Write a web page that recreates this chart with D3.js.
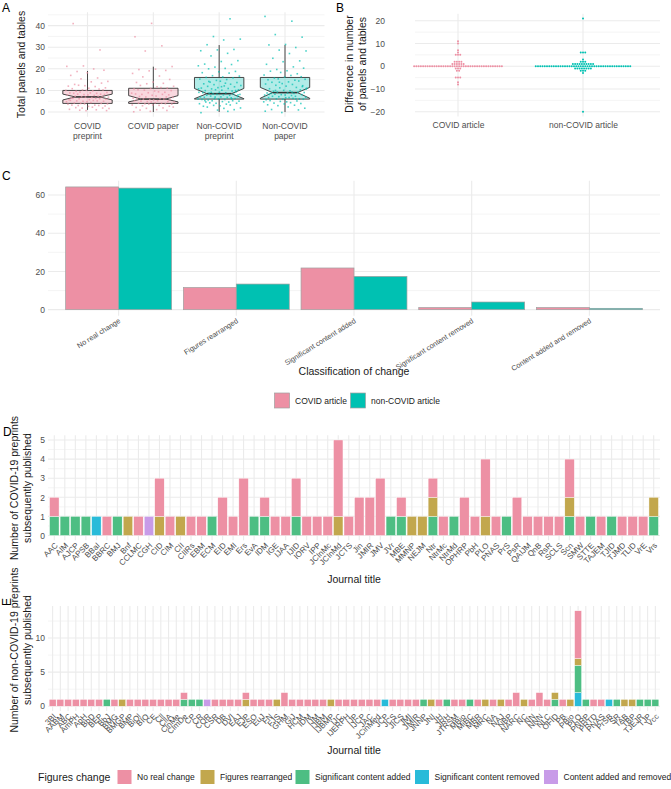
<!DOCTYPE html>
<html><head><meta charset="utf-8">
<script src="https://cdn.jsdelivr.net/npm/d3@7"></script>
<style>body{margin:0;background:#fff}svg text{font-family:"Liberation Sans",Arial,Helvetica,sans-serif}</style>
</head><body>
<svg id="c" width="671" height="789"></svg>
<script>
// ---------------- DATA ----------------
// Panel A: boxplot stats
const groupsA = ["COVID\npreprint","COVID paper","Non-COVID\npreprint","Non-COVID\npaper"];
const q1A = [4, 4, 6, 6];
const medA = [7, 6, 8.5, 9];
const q3A = [10, 11, 16, 16];
const whiskLoA = [1, 0, 0, 0];
const whiskHiA = [19, 21, 31, 31];
const notchLoA = [5.6, 4.7, 6.2, 6.4];
const notchHiA = [8.3, 7.6, 10.9, 11.4];
const ptsCovidPreprint = [41,29,21,21,20,19,19,18,17,16,15,14,14,13,13,12,12,12,12,11,11,11,11,10,10,10,10,10,10,9,9,9,9,9,9,8,8,8,8,8,8,8,7,7,7,7,7,7,7,7,6,6,6,6,6,6,6,5,5,5,5,5,5,5,5,4,4,4,4,4,4,4,3,3,3,3,3,3,2,2,2,2,2,1,1,1,1,1];
const ptsCovidPaper = [41,35,31,28,21,20,20,19,19,18,17,16,15,14,14,13,13,12,12,12,11,11,11,11,10,10,10,10,9,9,9,9,8,8,8,8,8,7,7,7,7,7,6,6,6,6,6,6,6,6,5,5,5,5,5,5,5,4,4,4,4,4,4,4,3,3,3,3,3,2,2,2,2,1,1,1,0,0];
const ptsNonPreprint = [43,35,34,33,31,29,29,28,27,26,24,23,22,22,21,21,20,20,19,19,18,18,17,17,16,16,16,15,15,15,14,14,14,13,13,13,12,12,12,12,11,11,11,11,10,10,10,10,10,9,9,9,9,9,9,8,8,8,8,8,8,8,7,7,7,7,7,7,7,6,6,6,6,6,6,6,5,5,5,5,5,5,4,4,4,4,4,3,3,3,3,2,2,2,1,1,0,0,9,8,12,5,6,7,11,13,14,10];
const ptsNonPaper = [44,42,36,35,31,31,30,29,28,27,25,24,23,22,21,20,20,19,19,18,18,17,17,16,16,16,15,15,15,15,14,14,14,13,13,13,12,12,12,11,11,11,11,10,10,10,10,9,9,9,9,9,9,9,8,8,8,8,8,8,7,7,7,7,7,7,6,6,6,6,6,6,5,5,5,5,5,4,4,4,4,3,3,3,2,2,1,1,0,0,9,10,12,7,8,6,14,11];

// Panel B: dot plot (difference value -> number of articles)
const groupsB = ["COVID article","non-COVID article"];
const covidDiffValues = [11,10,7,6,5,2,1,0,-1,-2,-5,-7,-8];
const covidDiffCounts = [1,1,1,1,3,4,6,40,3,2,3,1,1];
const nonDiffValues = [21,6,3,2,1,0,-1,-2,-3,-20];
const nonDiffCounts = [1,3,1,3,10,43,8,3,1,1];

// Panel C
const changeCats = ["No real change","Figures rearranged","Significant content added","Significant content removed","Content added and removed"];
const covidPct = [64.2, 11.6, 21.8, 1.1, 1.1];
const nonCovidPct = [63.6, 13.4, 17.4, 4.0, 0.7];
const seriesC = ["COVID article","non-COVID article"];

// Panel D
const journalsD = ["AAC","AIM","AJCP","APSB","BBaI","BBRC","BMJ","Bnf","CCLMC","CGH","CID","CIM","CII","CIIRs","EBM","ECM","EID","EMI","Ers","EvA","IDM","IGE","IJAA","IJID","IORV","IPP","JCInMc","JCInMd","JCTS","Jin","JMIR","JMV","JVr","MBE","MMNP","NEJM","Ntr","NtrMc","NtrMd","OPHRP","PbH","PLO","PNAS","PrS","PsR","QAIJM","QnB","RsR","SCLS","Scn","SMW","STTE","TAJEM","TJID","TJMD","TLID","VrE","Vrs"];
const noChangeD =   [1,0,0,0,0,1,0,0,1,0, 2,1,0,1,1,0,2,1,3,0, 1,1,1,2,1,1,1,4,1,2, 2,3,0,1,0,0,1,1,0,2, 1,3,1,0,2,1,1,1,1,2, 1,0,1,0,1,1,1,0];
const figRearrD =   [0,0,0,0,0,0,0,1,0,0, 1,0,1,0,0,0,0,0,0,0, 0,0,0,0,0,0,0,1,0,0, 0,0,0,0,1,1,1,0,0,0, 0,1,0,0,0,0,0,0,0,1, 0,0,0,0,0,0,0,1];
const sigAddedD =   [1,1,1,1,0,0,1,0,0,0, 0,0,0,0,0,1,0,0,0,1, 1,0,0,1,0,0,0,0,0,0, 0,0,1,1,0,0,1,0,1,0, 0,0,0,1,0,0,0,0,0,1, 0,1,0,1,0,0,0,1];
const sigRemovedD = [0,0,0,0,1,0,0,0,0,0, 0,0,0,0,0,0,0,0,0,0, 0,0,0,0,0,0,0,0,0,0, 0,0,0,0,0,0,0,0,0,0, 0,0,0,0,0,0,0,0,0,0, 0,0,0,0,0,0,0,0];
const addRemD =     [0,0,0,0,0,0,0,0,0,1, 0,0,0,0,0,0,0,0,0,0, 0,0,0,0,0,0,0,0,0,0, 0,0,0,0,0,0,0,0,0,0, 0,0,0,0,0,0,0,0,0,0, 0,0,0,0,0,0,0,0];

// Panel E
const journalsE = ["3BI","AABM","ABC","AmPH","ApH","BbD","BEP","BbJ","BMG","BMGP","BMP","BiOl","BIO","CE","Cll","CllA","ClnMe","CImDe","CP","CR","COR","CSR","DB","DVI","EAJ","EJP","ESO","EuJ","FN","FJS","GHM","GiJ","HCM","IDM","IJM","IJBM","IJBMP","IJC","IJERPH","IJP","IJCP","JAC","JCinMed","JCP","JCS","JICS","JMI","JMIR","JNNP","JNI","JH","JRH","JTRSM","MBio","MiBC","MBR","MRC","NA","NAJ","NBP","NARC","NC","NN","NNN","NLC","OFID","PB","PBio","PLO","PNRP","PRTD","PNAS","PrSB","SR","TAB","TBP","TJEJR","TJP","Vcc"];
const noChangeE =   [1,1,1,1,1,1,1,0,1,0, 1,1,1,1,1,1,1,1,0,0, 0,1,1,1,1,1,1,1,1,0, 2,1,1,1,1,1,0,1,1,1, 1,1,1,0,1,1,1,1,0,0, 1,0,1,1,0,1,0,1,0,1, 2,0,1,2,1,0,1,0,7,0, 1,1,0,0,0,0,0,0,0];
const figRearrE =   [0,0,0,0,0,0,0,0,0,1, 0,0,0,0,0,0,0,0,0,0, 0,0,0,0,0,1,0,0,0,1, 0,0,0,0,0,0,1,0,0,0, 0,0,0,0,0,0,0,0,0,1, 0,0,0,0,0,0,1,0,1,0, 0,1,0,0,0,1,0,1,1,0, 0,0,0,0,1,1,0,0,0];
const sigAddedE =   [0,0,0,0,0,0,0,1,0,0, 0,0,0,0,0,0,0,1,1,1, 0,0,0,0,0,0,0,0,0,0, 0,0,0,0,0,0,0,0,0,0, 0,0,0,0,0,0,0,0,1,0, 0,1,0,0,1,0,0,0,0,0, 0,0,0,0,0,1,0,0,4,1, 0,0,0,1,0,0,1,1,1];
const sigRemovedE = [0,0,0,0,0,0,0,0,0,0, 0,0,0,0,0,0,0,0,0,0, 0,0,0,0,0,0,0,0,0,0, 0,0,0,0,0,0,0,0,0,0, 0,0,0,1,0,0,0,0,0,0, 0,0,0,0,0,0,0,0,0,0, 0,0,0,0,0,0,0,0,2,0, 0,0,1,0,0,0,0,0,0];
const addRemE =     [0,0,0,0,0,0,0,0,0,0, 0,0,0,0,0,0,0,0,0,0, 1,0,0,0,0,0,0,0,0,0, 0,0,0,0,0,0,0,0,0,0, 0,0,0,0,0,0,0,0,0,0, 0,0,0,0,0,0,0,0,0,0, 0,0,0,0,0,0,0,0,0,0, 0,0,0,0,0,0,0,0,0];

const changeLegend = ["No real change","Figures rearranged","Significant content added","Significant content removed","Content added and removed"];

// ---------------- STYLE ----------------
const PINK = "#ED90A4", TEAL = "#00C1B2";
const catColors = ["#ED90A4","#C2A74D","#4DBE83","#28BBD9","#C89BE8"];
const GRID = "#EBEBEB", AXT = "#4D4D4D", TXT = "#1A1A1A";
const svg = d3.select("#c");
function frac(x){ return x - Math.floor(x); }

function hGrid(g, y, major, minor, x0, x1){
  minor.forEach(v => g.append("line").attr("x1",x0).attr("x2",x1).attr("y1",y(v)).attr("y2",y(v)).attr("stroke",GRID).attr("stroke-width",0.55));
  major.forEach(v => g.append("line").attr("x1",x0).attr("x2",x1).attr("y1",y(v)).attr("y2",y(v)).attr("stroke",GRID).attr("stroke-width",1.1));
}
function vGrid(g, xs, y0, y1){
  xs.forEach(x => g.append("line").attr("x1",x).attr("x2",x).attr("y1",y0).attr("y2",y1).attr("stroke",GRID).attr("stroke-width",1.1));
}
function leftAxis(g, y, vals, x, fmt){
  const ax = g.append("g").attr("transform",`translate(${x},0)`)
    .call(d3.axisLeft(y).tickValues(vals).tickSize(0).tickPadding(3).tickFormat(fmt || d3.format("d")));
  ax.select(".domain").remove();
  ax.selectAll("text").attr("fill",AXT).attr("font-size",8.5).style("font-family",'"Liberation Sans",Arial,sans-serif');
  return ax;
}
function label(txt, x, y, size, opts={}){
  const t = svg.append("text").attr("x",x).attr("y",y).attr("font-size",size).attr("fill",opts.fill||TXT)
    .attr("text-anchor",opts.anchor||"start").text(txt);
  if (opts.rotate) t.attr("transform",`rotate(${opts.rotate},${x},${y})`);
  if (opts.baseline) t.attr("dominant-baseline",opts.baseline);
  return t;
}

// ---------------- PANEL A ----------------
(function(){
  const g = svg.append("g");
  const x = d3.scaleBand().domain(groupsA).range([48,324.5]).paddingInner(0.1).paddingOuter(0.15);
  const y = d3.scaleLinear().domain([-2.2,46.2]).range([116.8,12.2]);
  const cx = d => x(d) + x.bandwidth()/2;
  hGrid(g, y, [0,10,20,30,40], [5,15,25,35,45], 48, 324.5);
  vGrid(g, groupsA.map(cx), 12.2, 116.8);
  leftAxis(g, y, [0,10,20,30,40], 48);
  const pts = [ptsCovidPreprint, ptsCovidPaper, ptsNonPreprint, ptsNonPaper];
  const step = x.step();
  groupsA.forEach((grp,i) => {
    const c = cx(grp), hw = step*0.75/2, col = i<2 ? PINK : TEAL;
    const p = d3.path();
    p.moveTo(c-hw, y(q3A[i])); p.lineTo(c-hw, y(notchHiA[i])); p.lineTo(c-hw/2, y(medA[i]));
    p.lineTo(c-hw, y(notchLoA[i])); p.lineTo(c-hw, y(q1A[i])); p.lineTo(c+hw, y(q1A[i]));
    p.lineTo(c+hw, y(notchLoA[i])); p.lineTo(c+hw/2, y(medA[i])); p.lineTo(c+hw, y(notchHiA[i]));
    p.lineTo(c+hw, y(q3A[i])); p.closePath();
    g.append("line").attr("x1",c).attr("x2",c).attr("y1",y(q3A[i])).attr("y2",y(whiskHiA[i])).attr("stroke","#333").attr("stroke-width",0.9);
    g.append("line").attr("x1",c).attr("x2",c).attr("y1",y(q1A[i])).attr("y2",y(whiskLoA[i])).attr("stroke","#333").attr("stroke-width",0.9);
    g.append("path").attr("d",p.toString()).attr("fill",col).attr("fill-opacity",i<2?0.35:0.3).attr("stroke","#333").attr("stroke-width",0.9);
    g.append("line").attr("x1",c-hw/2).attr("x2",c+hw/2).attr("y1",y(medA[i])).attr("y2",y(medA[i])).attr("stroke","#333").attr("stroke-width",1.6);
    pts[i].forEach((v,k) => {
      const jx = (frac(k*0.618034+0.17+i*0.29)-0.5)*2*0.33*step;
      const jy = (frac(k*0.7548777+0.41+i*0.13)-0.5)*0.8;
      g.append("rect").attr("x",c+jx-0.8).attr("y",y(v+jy)-0.8).attr("width",1.6).attr("height",1.6)
        .attr("fill",col).attr("fill-opacity",0.7);
    });
  });
  const ax = g.append("g").attr("transform","translate(0,116.8)").call(d3.axisBottom(x).tickSize(0).tickPadding(0));
  ax.select(".domain").remove();
  ax.selectAll("text").each(function(d){
    const t = d3.select(this); t.text(null).attr("y",0).attr("dy",null).attr("fill",AXT).attr("font-size",8.5);
    d.split("\n").forEach((s,j) => t.append("tspan").attr("x",0).attr("y", 12.3 + j*9.7).text(s));
  });
  label("Total panels and tables", 25, 64.5, 10.5, {anchor:"middle", rotate:-90});
  label("A", 2, 12, 12, {fill:"#000"});
})();

// ---------------- PANEL B ----------------
(function(){
  const g = svg.append("g");
  const x = d3.scalePoint().domain(groupsB).range([458,583]);
  const y = d3.scaleLinear().domain([-22.05,23.05]).range([116.4,13.8]);
  hGrid(g, y, [-20,-10,0,10,20], [-15,-5,5,15], 415, 660);
  vGrid(g, groupsB.map(d=>x(d)), 13.8, 116.4);
  leftAxis(g, y, [-20,-10,0,10,20], 388);
  const dd = 2.25;
  [[covidDiffValues,covidDiffCounts,PINK],[nonDiffValues,nonDiffCounts,TEAL]].forEach(([vals,cnts,col],gi) => {
    const c = x(groupsB[gi]);
    vals.forEach((v,j) => {
      const n = cnts[j];
      for (let k=0;k<n;k++){
        g.append("circle").attr("cx", c + (k-(n-1)/2)*dd).attr("cy", y(v)).attr("r", 1.0).attr("fill",col);
      }
    });
  });
  const ax = g.append("g").attr("transform","translate(0,116.4)").call(d3.axisBottom(x).tickSize(0).tickPadding(6));
  ax.select(".domain").remove();
  ax.selectAll("text").attr("fill",AXT).attr("font-size",8.5);
  label("Difference in number", 353, 64, 10.5, {anchor:"middle", rotate:-90});
  label("of panels and tables", 365.5, 64, 10.5, {anchor:"middle", rotate:-90});
  label("B", 336, 12, 12, {fill:"#000"});
})();

// ---------------- PANEL C ----------------
(function(){
  const g = svg.append("g");
  const x = d3.scaleBand().domain(changeCats).range([48,660]).paddingInner(0.1).paddingOuter(0.15);
  const xs = d3.scaleBand().domain(seriesC).range([0, x.bandwidth()]);
  const y = d3.scaleLinear().domain([-3.21,67.41]).range([315.8,180.8]);
  const cx = d => x(d) + x.bandwidth()/2;
  hGrid(g, y, [0,20,40,60], [10,30,50], 48, 660);
  vGrid(g, changeCats.map(cx), 180.8, 315.8);
  leftAxis(g, y, [0,20,40,60], 48);
  [covidPct, nonCovidPct].forEach((vals,si) => {
    vals.forEach((v,i) => {
      g.append("rect").attr("x", x(changeCats[i]) + xs(seriesC[si])).attr("y", y(v))
        .attr("width", xs.bandwidth()).attr("height", y(0)-y(v))
        .attr("fill", si===0 ? PINK : TEAL).attr("stroke","#A0A0A0").attr("stroke-width",0.7);
    });
  });
  const ax = g.append("g").attr("transform","translate(0,316)").call(d3.axisBottom(x).tickSize(0).tickPadding(0));
  ax.select(".domain").remove();
  ax.selectAll("text").attr("fill",AXT).attr("font-size",7.3).attr("text-anchor","end")
    .attr("y",0).attr("dy","0.35em").attr("transform","translate(1,4) rotate(-32)");
  label("Classification of change", 354, 375, 10.5, {anchor:"middle"});
  // legend
  const lg = svg.append("g");
  [[274.5,"COVID article",PINK],[350.5,"non-COVID article",TEAL]].forEach(([lx,t,col]) => {
    lg.append("rect").attr("x",lx).attr("y",393).attr("width",15).attr("height",15).attr("fill",col).attr("stroke","#A0A0A0").attr("stroke-width",0.7);
    lg.append("text").attr("x",lx+20.5).attr("y",400.5).attr("dominant-baseline","central").attr("font-size",8.5).attr("fill",TXT).text(t);
  });
  label("C", 2, 180, 12, {fill:"#000"});
})();

// ---------------- PANEL D / E (stacked bars) ----------------
function stackedPanel(journals, cols, yDomain, yRange, majors, minors, labelY, titleY, yTitleLines, yTitleCenter){
  const g = svg.append("g");
  const x = d3.scaleBand().domain(journals).range([48,660]).paddingInner(0.1).paddingOuter(0.15);
  const y = d3.scaleLinear().domain(yDomain).range(yRange);
  const cx = d => x(d) + x.bandwidth()/2;
  hGrid(g, y, majors, minors, 48, 660);
  vGrid(g, journals.map(cx), yRange[1], yRange[0]);
  leftAxis(g, y, majors, 48);
  const keys = ["addRem","sigRemoved","sigAdded","figRearr","noChange"];
  const keyColor = {noChange:catColors[0], figRearr:catColors[1], sigAdded:catColors[2], sigRemoved:catColors[3], addRem:catColors[4]};
  const rows = journals.map((j,i) => ({j, noChange:cols.noChange[i], figRearr:cols.figRearr[i], sigAdded:cols.sigAdded[i], sigRemoved:cols.sigRemoved[i], addRem:cols.addRem[i]}));
  const st = d3.stack().keys(keys)(rows);
  st.forEach(layer => {
    layer.forEach(seg => {
      if (seg[1] - seg[0] <= 0) return;
      g.append("rect").attr("x", x(seg.data.j)).attr("y", y(seg[1])).attr("width", x.bandwidth())
        .attr("height", y(seg[0]) - y(seg[1])).attr("fill", keyColor[layer.key])
        .attr("stroke","#fff").attr("stroke-width",0.4);
    });
  });
  const ax = g.append("g").attr("transform",`translate(0,${labelY})`).call(d3.axisBottom(x).tickSize(0).tickPadding(0));
  ax.select(".domain").remove();
  ax.selectAll("text").attr("fill",AXT).attr("font-size",8).attr("text-anchor","end")
    .attr("y",0).attr("dy","0.35em").attr("transform","translate(2,3) rotate(-45)");
  label("Journal title", 354, titleY, 10.5, {anchor:"middle"});
  label(yTitleLines[0], 18, yTitleCenter, 10.5, {anchor:"middle", rotate:-90});
  label(yTitleLines[1], 30.5, yTitleCenter, 10.5, {anchor:"middle", rotate:-90});
}

stackedPanel(journalsD, {noChange:noChangeD, figRearr:figRearrD, sigAdded:sigAddedD, sigRemoved:sigRemovedD, addRem:addRemD},
  [-0.25,5.25], [540.3,435.2], [0,1,2,3,4,5], [0.5,1.5,2.5,3.5,4.5], 541, 583,
  ["Number of COVID-19 preprints","subsequently published"], 488);
label("D", 3, 436, 12, {fill:"#000"});

stackedPanel(journalsE, {noChange:noChangeE, figRearr:figRearrE, sigAdded:sigAddedE, sigRemoved:sigRemovedE, addRem:addRemE},
  [-0.7,14.7], [711,606], [0,5,10], [2.5,7.5,12.5], 712, 754,
  ["Number of non-COVID-19 preprints","subsequently published"], 650);
label("E", 11, 602, 12, {fill:"#000", anchor:"middle", rotate:-90});

// legend E
(function(){
  const lg = svg.append("g");
  lg.append("text").attr("x",38).attr("y",777).attr("dominant-baseline","central").attr("font-size",10.5).attr("fill",TXT).text("Figures change");
  const kx = [117.5, 200.5, 295.5, 415, 544];
  changeLegend.forEach((t,i) => {
    lg.append("rect").attr("x",kx[i]).attr("y",770).attr("width",14).attr("height",14).attr("fill",catColors[i]);
    lg.append("text").attr("x",kx[i]+19.5).attr("y",777).attr("dominant-baseline","central").attr("font-size",8.5).attr("fill",TXT).text(t);
  });
})();
</script>
</body></html>
